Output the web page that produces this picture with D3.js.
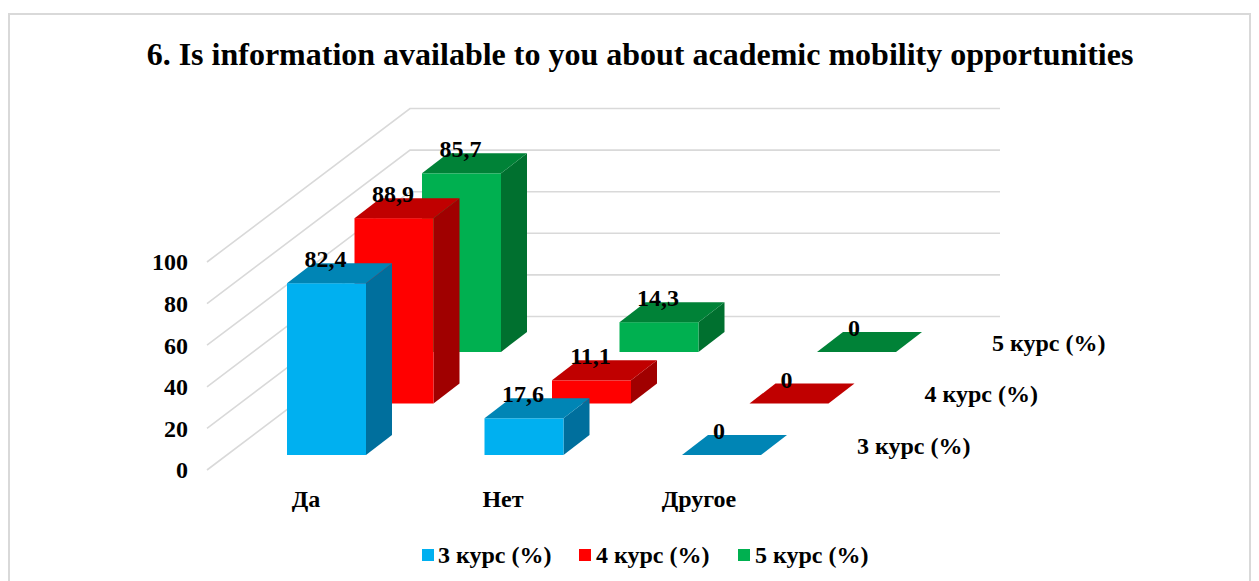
<!DOCTYPE html>
<html><head><meta charset="utf-8">
<script src="https://cdn.jsdelivr.net/npm/d3@7/dist/d3.min.js"></script>
<style>html,body{margin:0;padding:0;background:#fff;overflow:hidden}svg{display:block}text{font-family:"Liberation Serif",serif;font-weight:bold;fill:#000}</style>
</head><body><svg id="c" width="1259" height="581"></svg>
<script>
const titleText = "6. Is information available to you about academic mobility opportunities";
const categories = ["Да", "Нет", "Другое"];
const seriesNames = ["3 курс (%)", "4 курс (%)", "5 курс (%)"];
const values3 = [82.4, 17.6, 0];
const values4 = [88.9, 11.1, 0];
const values5 = [85.7, 14.3, 0];
const tickValues = [0, 20, 40, 60, 80, 100];
const frontColors = ["#00B0F0", "#FF0000", "#00B050"];
const topColors = ["#0085B5", "#C00000", "#008237"];
const sideColors = ["#006F9D", "#A00000", "#00702F"];

const svg = d3.select("#c");
svg.append("rect").attr("x",9).attr("y",14).attr("width",1241).attr("height",600)
  .attr("fill","#fff").attr("stroke","#D9D9D9").attr("stroke-width",2);

svg.append("text").attr("x",640).attr("y",65).attr("text-anchor","middle")
  .style("font-size","32px").text(titleText);

// scales
const barW = 79, depthX = 26, depthY = 20;
const xCat = d3.scaleLinear().domain([0,2]).range([287,682]);
const zX = d3.scaleLinear().domain([0,2]).range([0,135]);
const zY = d3.scaleLinear().domain([0,2]).range([455,352]);
const h = d3.scaleLinear().domain([0,100]).range([0,208.5]);
const yAxisScale = d3.scaleLinear().domain([0,100]).range([470,262]);

// walls
const wallX0 = 207, wallX1 = 410, wallX2 = 1000, wallRise = 153.5;
const grid = svg.append("g").attr("fill","none").attr("stroke","#D9D9D9").attr("stroke-width",1.6);
tickValues.forEach(v => {
  const y = yAxisScale(v);
  grid.append("path").attr("d", d3.line()([[wallX0,y],[wallX1,y-wallRise],[wallX2,y-wallRise]]));
});

// y axis
const axis = d3.axisLeft(yAxisScale).tickValues(tickValues).tickSize(0).tickPadding(0);
const ag = svg.append("g").attr("transform","translate(188,0)").call(axis);
ag.select(".domain").remove();
ag.selectAll("text").style("font-size","24px").style("font-family",'"Liberation Serif",serif').style("font-weight","bold").attr("fill","#000").attr("dy","0.33em");

// bars back to front
const seriesValues = [values3, values4, values5];
const labels = [];
[2,1,0].forEach(s => {
  const g = svg.append("g");
  seriesValues[s].forEach((v,c) => {
    const x = xCat(c) + zX(s), yb = zY(s), yt = yb - h(v);
    const line = d3.line();
    if (v > 0) {
      g.append("path").attr("fill",sideColors[s]).attr("d", line([[x+barW,yb],[x+barW+depthX,yb-depthY],[x+barW+depthX,yt-depthY],[x+barW,yt]])+"Z");
      g.append("rect").attr("x",x).attr("y",yt).attr("width",barW).attr("height",h(v)).attr("fill",frontColors[s]);
    }
    g.append("path").attr("fill",topColors[s]).attr("d", line([[x,yt],[x+barW,yt],[x+barW+depthX,yt-depthY],[x+depthX,yt-depthY]])+"Z");
    labels.push({x:x+barW/2-(v>0?1:2.5), y:yt-depthY+4, t:String(v).replace(".",",")});
  });
});
svg.append("g").selectAll("text").data(labels).join("text")
  .attr("x",d=>d.x).attr("y",d=>d.y).attr("text-anchor","middle").style("font-size","24px").text(d=>d.t);

// category labels
svg.append("g").selectAll("text").data(categories).join("text")
  .attr("x",(d,i)=>[306,503,699][i]).attr("y",507).attr("text-anchor","middle").style("font-size","24px").text(d=>d);

// series labels on depth axis
svg.append("g").selectAll("text").data(seriesNames).join("text")
  .attr("x",(d,i)=>857+zX(i)).attr("y",(d,i)=>zY(i)-1.5).attr("text-anchor","start").style("font-size","24px").text(d=>d);

// legend
const legendSwatch = [422,579,738], legendText = [438,596,755];
const lg = svg.append("g");
seriesNames.forEach((n,i)=>{
  lg.append("rect").attr("x",legendSwatch[i]).attr("y",549).attr("width",12).attr("height",12).attr("fill",frontColors[i]);
  lg.append("text").attr("x",legendText[i]).attr("y",562.5).style("font-size","24px").text(n);
});
</script></body></html>
